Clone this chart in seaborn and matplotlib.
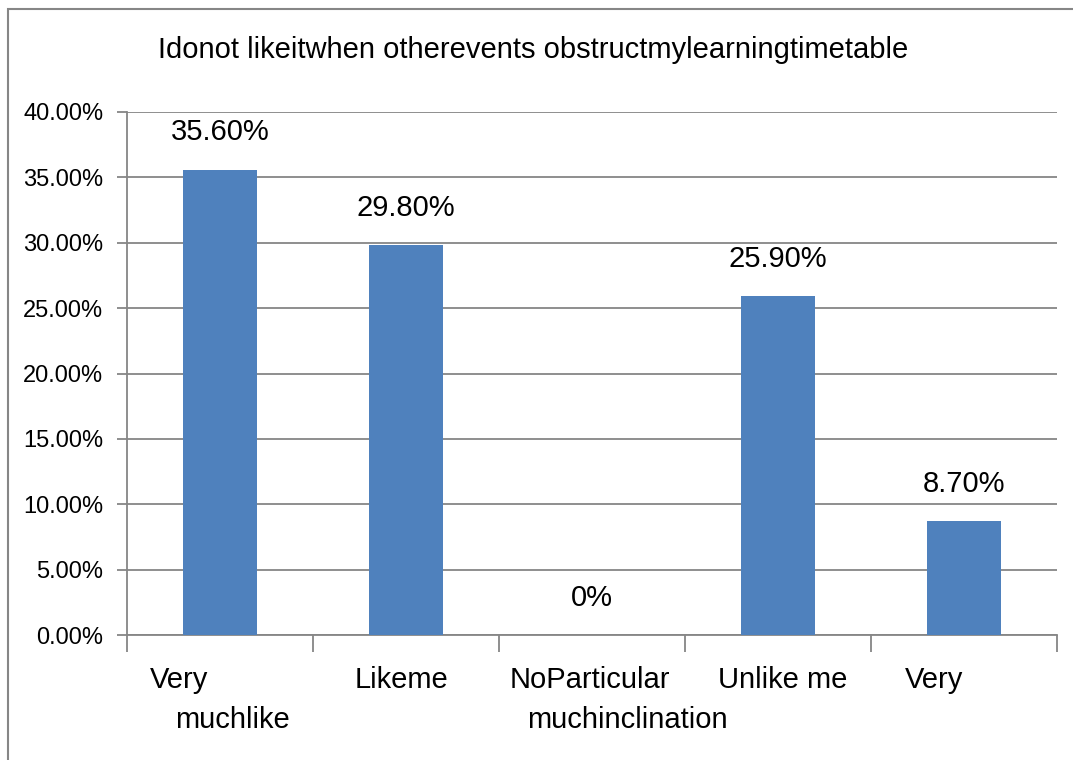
import seaborn as sns
import pandas as pd
import matplotlib.pyplot as plt
from matplotlib.patches import Rectangle
from matplotlib.ticker import PercentFormatter

categories = ["Very muchlike", "Likeme", "NoParticular", "Unlike me", "Very"]
label_line1 = ["Very", "Likeme", "NoParticular", "Unlike me", "Very"]
label_line2 = ["muchlike", "", "muchinclination", "", ""]
values = [35.6, 29.8, 0.0, 25.9, 8.7]
value_labels = ["35.60%", "29.80%", "0%", "25.90%", "8.70%"]
title = "Idonot likeitwhen otherevents obstructmylearningtimetable"

sns.set_style("white")
plt.rcParams["font.family"] = ["Liberation Sans", "DejaVu Sans"]
plt.rcParams["text.color"] = "black"

data = pd.DataFrame({"category": categories, "value": values})
gray = "#868686"

fig = plt.figure(figsize=(10.73, 7.60), dpi=100)
ax = fig.add_axes([127 / 1073, 1 - 635 / 760, 930 / 1073, 523 / 760])

sns.barplot(data=data, x="category", y="value", color="#4F81BD", width=0.4,
            saturation=1, ax=ax, zorder=3, linewidth=0, edgecolor="none")

ax.set_xlim(-0.5, 4.5)
ax.set_ylim(0, 40)
ax.set_yticks(range(0, 41, 5))
ax.yaxis.set_major_formatter(PercentFormatter(decimals=2))
ax.grid(axis="y", color=gray, linewidth=1.3, zorder=0)
ax.set_xlabel("")
ax.set_ylabel("")

for side in ["top", "right"]:
    ax.spines[side].set_visible(False)
for side in ["left", "bottom"]:
    ax.spines[side].set_color(gray)
    ax.spines[side].set_linewidth(1.3)

# category labels drawn line by line, offset like the original
ax.set_xticks(range(len(categories)))
ax.set_xticklabels([])
ax.set_xticks([x - 0.5 for x in range(6)], minor=True)
ax.tick_params(axis="x", which="minor", bottom=True, length=12, width=1.3,
               color=gray, direction="out")
ax.tick_params(axis="x", which="major", bottom=False, length=0)
ax.tick_params(axis="y", left=True, length=7, width=1.3, color=gray,
               labelsize=17, pad=10, labelcolor="black")

shift1 = [-70, -51, -82, -60, -59]
shift2 = [-45, 0, -65, 0, 0]
for i in range(len(categories)):
    ax.annotate(label_line1[i], (i, 0), xycoords=("data", "axes fraction"),
                xytext=(shift1[i], -45), textcoords="offset pixels",
                ha="left", va="center", fontsize=21, color="black")
    if label_line2[i]:
        ax.annotate(label_line2[i], (i, 0), xycoords=("data", "axes fraction"),
                    xytext=(shift2[i], -85), textcoords="offset pixels",
                    ha="left", va="center", fontsize=21, color="black")

for i, (v, t) in enumerate(zip(values, value_labels)):
    ax.annotate(t, (i, v), xytext=(0, 27), textcoords="offset points",
                ha="center", va="center", fontsize=21, color="black")

fig.text(533 / 1073, 1 - 50 / 760, title, ha="center", va="center",
         fontsize=21, color="black")

fig.patches.append(Rectangle((8 / 1073, -0.01), 1.1, 1 - 9 / 760 + 0.01,
                             transform=fig.transFigure, fill=False,
                             edgecolor=gray, linewidth=1.5))

fig.savefig("out.png", dpi=100)
